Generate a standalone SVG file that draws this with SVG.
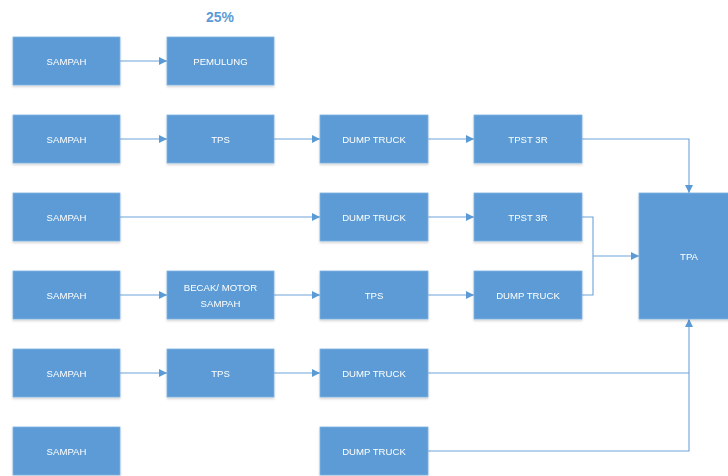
<svg xmlns="http://www.w3.org/2000/svg" width="728" height="476" viewBox="0 0 728 476">
<style>
.box rect{fill:#5B9BD5;stroke:#7FB2E0;stroke-width:0.8}
.box text{fill:#fff;font-family:"Liberation Sans",Arial,sans-serif;font-size:9.6px;text-anchor:middle;dominant-baseline:central}
.conn path{fill:none;stroke:#6EA4DA;stroke-width:1.1}
</style>
<defs>
<marker id="ah" markerUnits="userSpaceOnUse" markerWidth="8" markerHeight="8" viewBox="0 0 8 8" refX="8" refY="4" orient="auto">
<path d="M0,0 L8,4 L0,8 Z" fill="#5B9BD5"/>
</marker>
<filter id="sh" x="-10%" y="-10%" width="120%" height="130%">
<feDropShadow dx="0" dy="1.5" stdDeviation="1" flood-color="#000" flood-opacity="0.18"/>
</filter>
</defs>
<rect width="728" height="476" fill="#fff"/>
<text x="220" y="22" font-family="'Liberation Sans',Arial,sans-serif" font-size="14" font-weight="bold" fill="#5B9BD5" text-anchor="middle">25%</text>
<g class="conn">
<path d="M120,61 H167" marker-end="url(#ah)"/>
<path d="M120,139 H167" marker-end="url(#ah)"/>
<path d="M274,139 H320" marker-end="url(#ah)"/>
<path d="M428,139 H474" marker-end="url(#ah)"/>
<path d="M582,139 H689 V193" marker-end="url(#ah)"/>
<path d="M120,217 H320" marker-end="url(#ah)"/>
<path d="M428,217 H474" marker-end="url(#ah)"/>
<path d="M582,217 H593 V295 H582"/>
<path d="M593,256 H639" marker-end="url(#ah)"/>
<path d="M120,295 H167" marker-end="url(#ah)"/>
<path d="M274,295 H320" marker-end="url(#ah)"/>
<path d="M428,295 H474" marker-end="url(#ah)"/>
<path d="M120,373 H167" marker-end="url(#ah)"/>
<path d="M274,373 H320" marker-end="url(#ah)"/>
<path d="M428,373 H689"/>
<path d="M428,451 H689 V319" marker-end="url(#ah)"/>
</g>
<g id="sampah1" class="box" filter="url(#sh)"><rect x="13" y="37" width="107" height="48"/><text x="66.5" y="61">SAMPAH</text></g>
<g id="pemulung" class="box" filter="url(#sh)"><rect x="167" y="37" width="107" height="48"/><text x="220.5" y="61">PEMULUNG</text></g>
<g id="sampah2" class="box" filter="url(#sh)"><rect x="13" y="115" width="107" height="48"/><text x="66.5" y="139">SAMPAH</text></g>
<g id="tps2" class="box" filter="url(#sh)"><rect x="167" y="115" width="107" height="48"/><text x="220.5" y="139">TPS</text></g>
<g id="dump2" class="box" filter="url(#sh)"><rect x="320" y="115" width="108" height="48"/><text x="374" y="139">DUMP TRUCK</text></g>
<g id="tpst2" class="box" filter="url(#sh)"><rect x="474" y="115" width="108" height="48"/><text x="528" y="139">TPST 3R</text></g>
<g id="sampah3" class="box" filter="url(#sh)"><rect x="13" y="193" width="107" height="48"/><text x="66.5" y="217">SAMPAH</text></g>
<g id="dump3" class="box" filter="url(#sh)"><rect x="320" y="193" width="108" height="48"/><text x="374" y="217">DUMP TRUCK</text></g>
<g id="tpst3" class="box" filter="url(#sh)"><rect x="474" y="193" width="108" height="48"/><text x="528" y="217">TPST 3R</text></g>
<g id="tpa" class="box" filter="url(#sh)"><rect x="639" y="193" width="95" height="126"/><text x="689" y="256">TPA</text></g>
<g id="sampah4" class="box" filter="url(#sh)"><rect x="13" y="271" width="107" height="48"/><text x="66.5" y="295">SAMPAH</text></g>
<g id="becak" class="box" filter="url(#sh)"><rect x="167" y="271" width="107" height="48"/><text x="220.5" y="287">BECAK/ MOTOR</text><text x="220.5" y="303">SAMPAH</text></g>
<g id="tps4" class="box" filter="url(#sh)"><rect x="320" y="271" width="108" height="48"/><text x="374" y="295">TPS</text></g>
<g id="dump4" class="box" filter="url(#sh)"><rect x="474" y="271" width="108" height="48"/><text x="528" y="295">DUMP TRUCK</text></g>
<g id="sampah5" class="box" filter="url(#sh)"><rect x="13" y="349" width="107" height="48"/><text x="66.5" y="373">SAMPAH</text></g>
<g id="tps5" class="box" filter="url(#sh)"><rect x="167" y="349" width="107" height="48"/><text x="220.5" y="373">TPS</text></g>
<g id="dump5" class="box" filter="url(#sh)"><rect x="320" y="349" width="108" height="48"/><text x="374" y="373">DUMP TRUCK</text></g>
<g id="sampah6" class="box" filter="url(#sh)"><rect x="13" y="427" width="107" height="48"/><text x="66.5" y="451">SAMPAH</text></g>
<g id="dump6" class="box" filter="url(#sh)"><rect x="320" y="427" width="108" height="48"/><text x="374" y="451">DUMP TRUCK</text></g>
</svg>
